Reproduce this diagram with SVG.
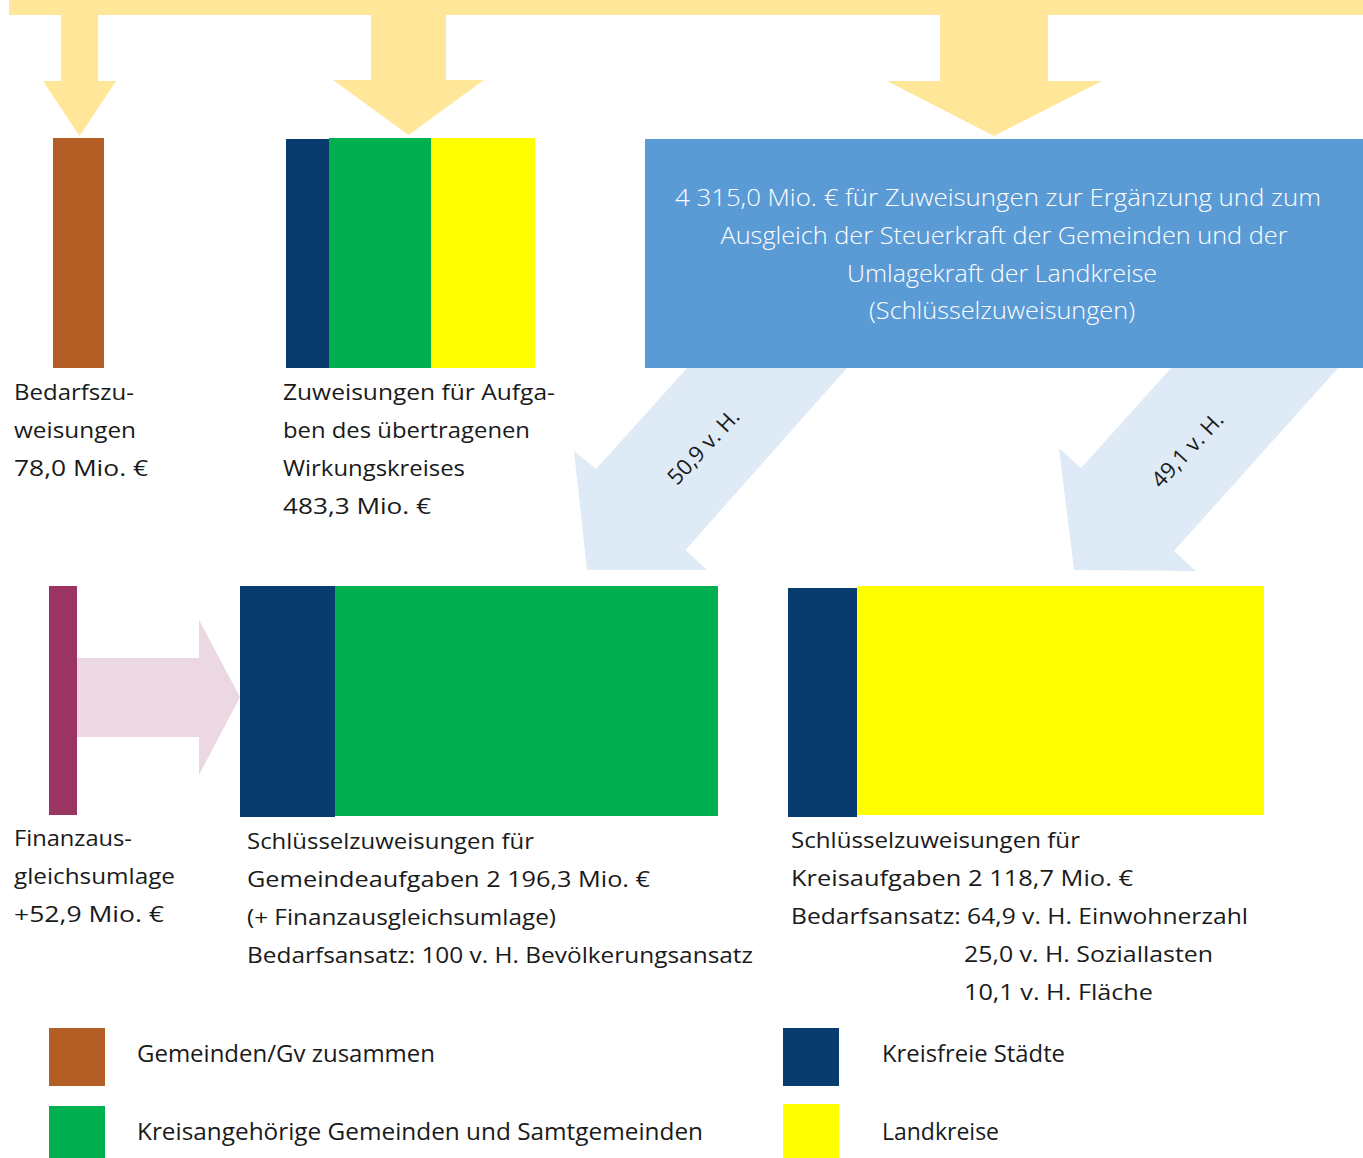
<svg xmlns="http://www.w3.org/2000/svg" width="1363" height="1158" viewBox="0 0 1363 1158">
  <style>
    .lbl { font-family: "Open Sans", "Noto Sans", "Liberation Sans", sans-serif; font-size: 22.5px; fill: #1a1a1a; }
    .box { font-family: "Open Sans", "Noto Sans", "Liberation Sans", sans-serif; font-size: 23.5px; font-weight: 300; fill: #ffffff; text-anchor: middle; }
    .leg { font-family: "Open Sans", "Noto Sans", "Liberation Sans", sans-serif; font-size: 24.5px; fill: #1a1a1a; }
    .pct { font-family: "Open Sans", "Noto Sans", "Liberation Sans", sans-serif; font-size: 22px; fill: #1a1a1a; text-anchor: middle; }
    .gold { fill: #FFE699; }
    .lblue { fill: #DEEBF7; }
    .brown { fill: #B35E25; }
    .navy { fill: #083B6E; }
    .green { fill: #00B050; }
    .yellow { fill: #FFFF00; }
    .blue { fill: #5B9BD5; }
    .purple { fill: #9B3363; }
    .pink { fill: #EBD8E2; }
  </style>

  <g id="connectors">
    <!-- top supply bar and downward arrows -->
    <rect class="gold" x="9" y="0" width="1354" height="15"/>
    <polygon class="gold" points="61,14 98,14 98,81 116,81 79.5,136 43,81 61,81"/>
    <polygon class="gold" points="371,14 446,14 446,80 484,80 408.5,135 333,80 371,80"/>
    <polygon class="gold" points="940,14 1048,14 1048,81 1102,81 994,136 887,81 940,81"/>
    <!-- diagonal split arrows -->
    <polygon class="lblue" points="687,368 847,368 685.5,550 707,570 587,570 574,451 596,469"/>
    <polygon class="lblue" points="1171,368 1338,368 1174,551 1196,571 1074,570 1059,448 1081,468"/>
    <text class="pct" x="709" y="452" transform="rotate(-47 709 452)">50,9 v. H.</text>
    <text class="pct" x="1193" y="455" transform="rotate(-47 1193 455)">49,1 v. H.</text>
    <!-- Finanzausgleichsumlage arrow -->
    <polygon class="pink" points="77,658 199,658 199,620 240,697 199,775 199,737 77,737"/>
  </g>

  <g id="bedarfszuweisungen">
    <rect class="brown" x="53" y="138" width="51" height="230"/>
    <text class="lbl" x="14" y="400" textLength="120" lengthAdjust="spacingAndGlyphs">Bedarfszu-</text>
    <text class="lbl" x="14" y="438" textLength="122" lengthAdjust="spacingAndGlyphs">weisungen</text>
    <text class="lbl" x="14" y="476" textLength="134" lengthAdjust="spacingAndGlyphs">78,0 Mio. €</text>
  </g>

  <g id="uebertragener-wirkungskreis">
    <rect class="navy" x="286" y="139" width="43" height="229"/>
    <rect class="green" x="329" y="138" width="102" height="230"/>
    <rect class="yellow" x="431" y="138" width="104" height="230"/>
    <text class="lbl" x="283" y="400" textLength="272" lengthAdjust="spacingAndGlyphs">Zuweisungen für Aufga-</text>
    <text class="lbl" x="283" y="438" textLength="247" lengthAdjust="spacingAndGlyphs">ben des übertragenen</text>
    <text class="lbl" x="283" y="476" textLength="182" lengthAdjust="spacingAndGlyphs">Wirkungskreises</text>
    <text class="lbl" x="283" y="514" textLength="148" lengthAdjust="spacingAndGlyphs">483,3 Mio. €</text>
  </g>

  <g id="schluesselzuweisungen">
    <rect class="blue" x="645" y="139" width="718" height="229"/>
    <text class="box" x="998" y="206" textLength="646" lengthAdjust="spacingAndGlyphs">4 315,0 Mio. € für Zuweisungen zur Ergänzung und zum</text>
    <text class="box" x="1004" y="244" textLength="567" lengthAdjust="spacingAndGlyphs">Ausgleich der Steuerkraft der Gemeinden und der</text>
    <text class="box" x="1002" y="282" textLength="310" lengthAdjust="spacingAndGlyphs">Umlagekraft der Landkreise</text>
    <text class="box" x="1002" y="319" textLength="266" lengthAdjust="spacingAndGlyphs">(Schlüsselzuweisungen)</text>
  </g>

  <g id="finanzausgleichsumlage">
    <rect class="purple" x="49" y="586" width="28" height="229"/>
    <text class="lbl" x="14" y="846" textLength="118" lengthAdjust="spacingAndGlyphs">Finanzaus-</text>
    <text class="lbl" x="14" y="884" textLength="161" lengthAdjust="spacingAndGlyphs">gleichsumlage</text>
    <text class="lbl" x="14" y="922" textLength="150" lengthAdjust="spacingAndGlyphs">+52,9 Mio. €</text>
  </g>

  <g id="gemeindeaufgaben">
    <rect class="navy" x="240" y="586" width="95" height="231"/>
    <rect class="green" x="335" y="586" width="383" height="230"/>
    <text class="lbl" x="247" y="849" textLength="287" lengthAdjust="spacingAndGlyphs">Schlüsselzuweisungen für</text>
    <text class="lbl" x="247" y="887" textLength="403" lengthAdjust="spacingAndGlyphs">Gemeindeaufgaben 2 196,3 Mio. €</text>
    <text class="lbl" x="247" y="925" textLength="309" lengthAdjust="spacingAndGlyphs">(+ Finanzausgleichsumlage)</text>
    <text class="lbl" x="247" y="963" textLength="506" lengthAdjust="spacingAndGlyphs">Bedarfsansatz: 100 v. H. Bevölkerungsansatz</text>
  </g>

  <g id="kreisaufgaben">
    <rect class="navy" x="788" y="588" width="69" height="229"/>
    <rect class="yellow" x="857" y="586" width="407" height="229"/>
    <text class="lbl" x="791" y="848" textLength="289" lengthAdjust="spacingAndGlyphs">Schlüsselzuweisungen für</text>
    <text class="lbl" x="791" y="886" textLength="342" lengthAdjust="spacingAndGlyphs">Kreisaufgaben 2 118,7 Mio. €</text>
    <text class="lbl" x="791" y="924" textLength="457" lengthAdjust="spacingAndGlyphs">Bedarfsansatz: 64,9 v. H. Einwohnerzahl</text>
    <text class="lbl" x="964" y="962" textLength="249" lengthAdjust="spacingAndGlyphs">25,0 v. H. Soziallasten</text>
    <text class="lbl" x="964" y="1000" textLength="189" lengthAdjust="spacingAndGlyphs">10,1 v. H. Fläche</text>
  </g>

  <g id="legend">
    <g id="legend-gemeinden-gv">
      <rect class="brown" x="49" y="1028" width="56" height="58"/>
      <text class="leg" x="137" y="1062" textLength="298" lengthAdjust="spacingAndGlyphs">Gemeinden/Gv zusammen</text>
    </g>
    <g id="legend-kreisangehoerige">
      <rect class="green" x="49" y="1106" width="56" height="52"/>
      <text class="leg" x="137" y="1140" textLength="566" lengthAdjust="spacingAndGlyphs">Kreisangehörige Gemeinden und Samtgemeinden</text>
    </g>
    <g id="legend-kreisfreie">
      <rect class="navy" x="783" y="1028" width="56" height="58"/>
      <text class="leg" x="882" y="1062" textLength="183" lengthAdjust="spacingAndGlyphs">Kreisfreie Städte</text>
    </g>
    <g id="legend-landkreise">
      <rect class="yellow" x="783" y="1104" width="56" height="54"/>
      <text class="leg" x="882" y="1140" textLength="117" lengthAdjust="spacingAndGlyphs">Landkreise</text>
    </g>
  </g>
</svg>
